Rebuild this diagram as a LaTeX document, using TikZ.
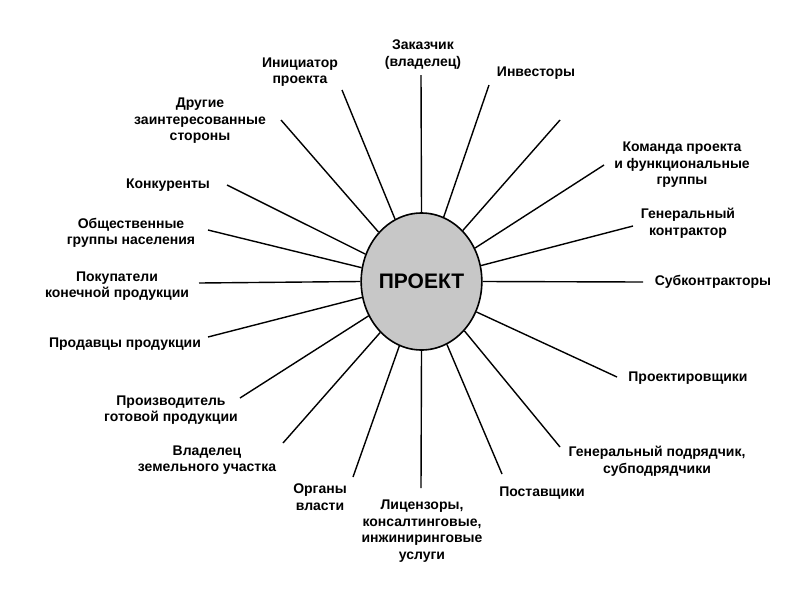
\documentclass[tikz,border=0pt]{standalone}
\usepackage{fontspec}
\setmainfont{Liberation Sans}
\usetikzlibrary{shapes.geometric}
\tikzset{
  proj/.style={ellipse,draw,line width=1.6pt,fill=black!22,minimum width=115pt,minimum height=137pt,inner sep=0pt,font=\fontsize{21}{25}\selectfont\bfseries},
  lbl/.style={align=center,inner sep=0pt,font=\fontsize{14}{16.5}\selectfont\bfseries},
  spoke/.style={line width=1.4pt}
}

\begin{document}
\begin{tikzpicture}[x=1pt,y=-1pt]
\useasboundingbox (0,0) rectangle (800,600);
\node[proj] (p) at (421.5,281.5) {ПРОЕКТ};
\node[lbl] (zak) at (423,54.5) {Заказчик\\(владелец)}; \coordinate (zak-e) at (421,75); \draw[spoke] (p.90) -- (zak-e);
\node[lbl] (init) at (300,72) {Инициатор\\проекта}; \coordinate (init-e) at (342,90); \draw[spoke] (p.113) -- (init-e);
\node[lbl] (drug) at (200,121) {Другие\\заинтересованные\\стороны}; \coordinate (drug-e) at (281,120); \draw[spoke] (p.131) -- (drug-e);
\node[lbl] (konk) at (168,185) {Конкуренты}; \coordinate (konk-e) at (227,185); \draw[spoke] (p.154) -- (konk-e);
\node[lbl] (obsh) at (131,233) {Общественные\\группы населения}; \coordinate (obsh-e) at (208,230); \draw[spoke] (p.167) -- (obsh-e);
\node[lbl] (pok) at (117,286) {Покупатели\\конечной продукции}; \coordinate (pok-e) at (199,283); \draw[spoke] (p.180) -- (pok-e);
\node[lbl] (prod) at (125,344) {Продавцы продукции}; \coordinate (prod-e) at (208,337); \draw[spoke] (p.195) -- (prod-e);
\node[lbl] (proizv) at (171,410) {Производитель\\готовой продукции}; \coordinate (proizv-e) at (240,398); \draw[spoke] (p.213) -- (proizv-e);
\node[lbl] (vlad) at (207,460) {Владелец\\земельного участка}; \coordinate (vlad-e) at (283,443); \draw[spoke] (p.231) -- (vlad-e);
\node[lbl] (org) at (320,497) {Органы\\власти}; \coordinate (org-e) at (353,477); \draw[spoke] (p.251) -- (org-e);
\node[lbl] (lic) at (422,531) {Лицензоры,\\консалтинговые,\\инжиниринговые\\услуги}; \coordinate (lic-e) at (421,488); \draw[spoke] (p.270) -- (lic-e);
\node[lbl] (post) at (542,493) {Поставщики}; \coordinate (post-e) at (502,474); \draw[spoke] (p.292) -- (post-e);
\node[lbl] (podr) at (657,461) {Генеральный подрядчик,\\субподрядчики}; \coordinate (podr-e) at (560,447); \draw[spoke] (p.311) -- (podr-e);
\node[lbl] (proekt) at (688,378) {Проектировщики}; \coordinate (proekt-e) at (617,377); \draw[spoke] (p.331) -- (proekt-e);
\node[lbl] (sub) at (713,282) {Субконтракторы}; \coordinate (sub-e) at (643,282); \draw[spoke] (p.0) -- (sub-e);
\node[lbl] (gen) at (688,223) {Генеральный\\контрактор}; \coordinate (gen-e) at (633,226); \draw[spoke] (p.15) -- (gen-e);
\node[lbl] (kom) at (682,165) {Команда проекта\\и функциональные\\группы}; \coordinate (kom-e) at (604,165); \draw[spoke] (p.32) -- (kom-e);
\coordinate (free-e) at (560,120); \draw[spoke] (p.51) -- (free-e);
\node[lbl] (inv) at (536,73) {Инвесторы}; \coordinate (inv-e) at (489,85); \draw[spoke] (p.71) -- (inv-e);
\end{tikzpicture}
\end{document}
